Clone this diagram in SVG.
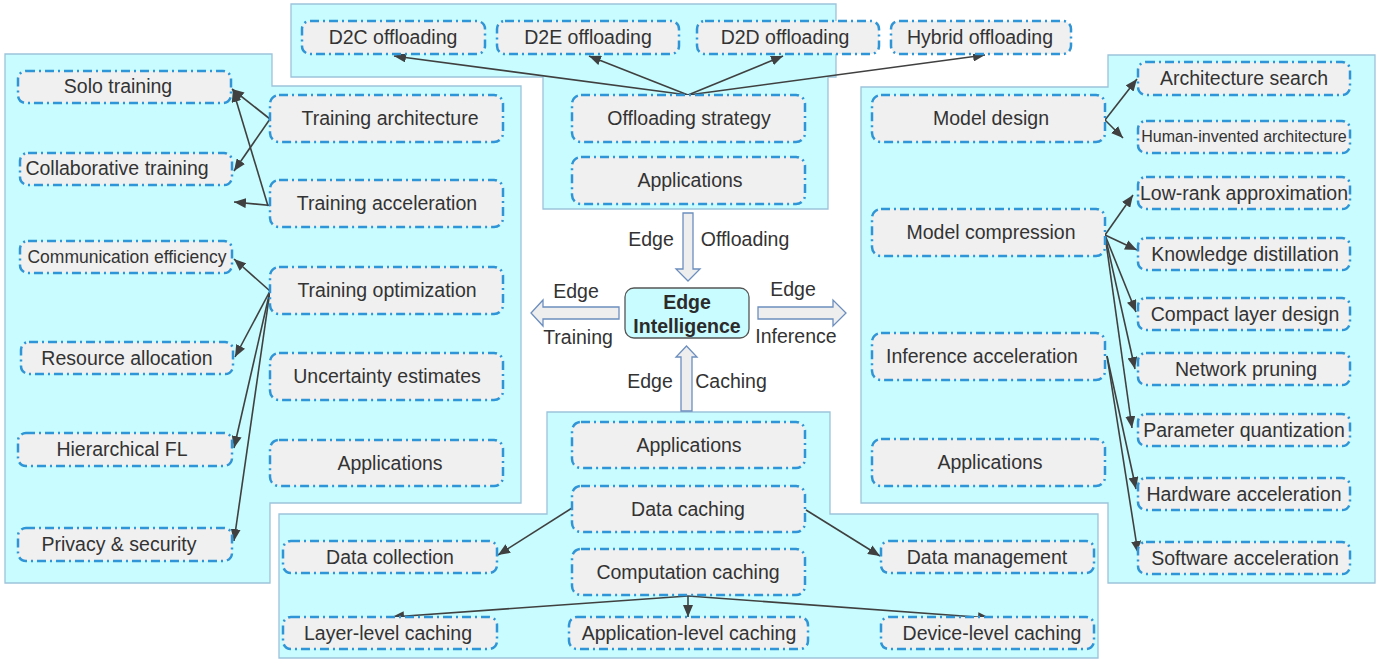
<svg xmlns="http://www.w3.org/2000/svg" width="1390" height="664" viewBox="0 0 1390 664">
<defs>
<style>
.panel{fill:#C8FCFE;stroke:#9CC3DA;stroke-width:1.3}
.nd{fill:#F0F0F0;stroke:#2F95D6;stroke-width:2.5;stroke-dasharray:9 4 2 4}
.t{font-family:"Liberation Sans",Arial,sans-serif;font-size:19.5px;fill:#333333;text-anchor:middle}
.lbl{font-family:"Liberation Sans",Arial,sans-serif;font-size:19.5px;fill:#333333;text-anchor:middle}
.ei{font-family:"Liberation Sans",Arial,sans-serif;font-size:19.5px;font-weight:bold;fill:#2b2b2b;text-anchor:middle}
.blk{fill:#EEEEEE;stroke:#6C8EBF;stroke-width:1.3}
.cn{fill:none;stroke:#404040;stroke-width:1.6;marker-end:url(#ah)}
</style>
<marker id="ah" viewBox="0 0 12 10" refX="12" refY="5" markerWidth="12" markerHeight="10" markerUnits="userSpaceOnUse" orient="auto">
<path d="M0,0 L12,5 L0,10 Z" fill="#404040"/>
</marker>
</defs>

<g id="panels">
<path class="panel" d="M5,54 H272 V86 H521 V503 H270 V583 H5 Z"/>
<path class="panel" d="M291,4 H836 V77 H828 V209 H543 V77 H291 Z"/>
<path class="panel" d="M1108,55 H1375 V583 H1108 V503 H861 V87 H1108 Z"/>
<path class="panel" d="M547,412 H830 V514 H1098 V658 H279 V514 H547 Z"/>
</g>

<g id="block-arrows">
<polygon class="blk" points="683,213 693,213 693,269 700,269 688,281 676,269 683,269"/>
<polygon class="blk" points="681,411 692,411 692,357 697,357 686.5,346 676,357 681,357"/>
<polygon class="blk" points="619,307 619,319 543,319 543,326 531,313 543,300 543,307"/>
<polygon class="blk" points="758,307 833,307 833,300 846,313 833,326 833,319 758,319"/>
</g>

<g id="edge-labels">
<text class="lbl" x="651" y="246">Edge</text>
<text class="lbl" x="745" y="246">Offloading</text>
<text class="lbl" x="576" y="298">Edge</text>
<text class="lbl" x="578" y="344">Training</text>
<text class="lbl" x="793" y="296">Edge</text>
<text class="lbl" x="796" y="343">Inference</text>
<text class="lbl" x="650" y="388">Edge</text>
<text class="lbl" x="731" y="388">Caching</text>
</g>

<g id="edge-intelligence">
<rect x="625" y="288" width="124" height="50" rx="9" fill="#C8FCFE" stroke="#555555" stroke-width="1.3"/>
<text class="ei" x="687" y="309">Edge</text>
<text class="ei" x="687" y="333">Intelligence</text>
</g>

<g id="connectors">
<line class="cn" x1="688" y1="95" x2="394" y2="56"/>
<line class="cn" x1="688" y1="95" x2="589" y2="56"/>
<line class="cn" x1="688" y1="95" x2="783" y2="56"/>
<line class="cn" x1="688" y1="95" x2="985" y2="55"/>
<line class="cn" x1="270" y1="119" x2="232" y2="89"/>
<line class="cn" x1="270" y1="119" x2="234" y2="171"/>
<line class="cn" x1="268" y1="206" x2="233" y2="90"/>
<line class="cn" x1="276" y1="206" x2="234" y2="202"/>
<line class="cn" x1="270" y1="291" x2="234" y2="259"/>
<line class="cn" x1="270" y1="291" x2="235" y2="357"/>
<line class="cn" x1="270" y1="291" x2="234" y2="448"/>
<line class="cn" x1="270" y1="291" x2="234" y2="541"/>
<line class="cn" x1="1105" y1="120" x2="1137" y2="79"/>
<line class="cn" x1="1105" y1="120" x2="1123" y2="138"/>
<line class="cn" x1="1105" y1="235" x2="1133" y2="195"/>
<line class="cn" x1="1105" y1="235" x2="1137" y2="250"/>
<line class="cn" x1="1105" y1="235" x2="1136" y2="312"/>
<line class="cn" x1="1105" y1="235" x2="1135" y2="369"/>
<line class="cn" x1="1105" y1="235" x2="1132" y2="428"/>
<line class="cn" x1="1107" y1="356" x2="1136" y2="489"/>
<line class="cn" x1="1107" y1="356" x2="1138" y2="553"/>
<line class="cn" x1="572" y1="508" x2="498" y2="555"/>
<line class="cn" x1="806" y1="510" x2="880" y2="556"/>
<line class="cn" x1="688" y1="596" x2="392" y2="617"/>
<line class="cn" x1="688" y1="596" x2="688" y2="617"/>
<line class="cn" x1="688" y1="596" x2="990" y2="618"/>
</g>

<g id="n-d2c"><rect class="nd" x="302" y="21" width="183" height="33" rx="8"/><text class="t" x="393" y="44">D2C offloading</text></g>
<g id="n-d2e"><rect class="nd" x="497" y="21" width="182" height="33" rx="8"/><text class="t" x="588" y="44">D2E offloading</text></g>
<g id="n-d2d"><rect class="nd" x="697" y="21" width="182" height="33" rx="8"/><text class="t" x="785" y="44">D2D offloading</text></g>
<g id="n-hybrid"><rect class="nd" x="891" y="21" width="180" height="33" rx="8"/><text class="t" x="980" y="44">Hybrid offloading</text></g>
<g id="n-offstrat"><rect class="nd" x="572" y="95" width="233" height="47" rx="9"/><text class="t" x="689" y="125">Offloading strategy</text></g>
<g id="n-offapp"><rect class="nd" x="572" y="157" width="233" height="47" rx="9"/><text class="t" x="690" y="187">Applications</text></g>

<g id="n-solo"><rect class="nd" x="18" y="71" width="213" height="32" rx="8"/><text class="t" x="118" y="93">Solo training</text></g>
<g id="n-collab"><rect class="nd" x="20" y="153" width="212" height="32" rx="8"/><text class="t" x="117" y="175">Collaborative training</text></g>
<g id="n-comm"><rect class="nd" x="20" y="241" width="212" height="32" rx="8"/><text class="t" x="127" y="263" style="font-size:17.5px">Communication efficiency</text></g>
<g id="n-resource"><rect class="nd" x="21" y="342" width="212" height="32" rx="8"/><text class="t" x="127" y="365">Resource allocation</text></g>
<g id="n-hfl"><rect class="nd" x="18" y="433" width="214" height="33" rx="8"/><text class="t" x="122" y="456">Hierarchical FL</text></g>
<g id="n-privacy"><rect class="nd" x="18" y="528" width="214" height="33" rx="8"/><text class="t" x="119" y="551">Privacy &amp; security</text></g>
<g id="n-tarch"><rect class="nd" x="270" y="95" width="233" height="47" rx="9"/><text class="t" x="390" y="125">Training architecture</text></g>
<g id="n-tacc"><rect class="nd" x="270" y="180" width="233" height="47" rx="9"/><text class="t" x="387" y="210">Training acceleration</text></g>
<g id="n-topt"><rect class="nd" x="270" y="267" width="233" height="47" rx="9"/><text class="t" x="387" y="297">Training optimization</text></g>
<g id="n-unc"><rect class="nd" x="270" y="353" width="233" height="47" rx="9"/><text class="t" x="387" y="383">Uncertainty estimates</text></g>
<g id="n-tapp"><rect class="nd" x="270" y="440" width="233" height="46" rx="9"/><text class="t" x="390" y="470">Applications</text></g>

<g id="n-mdesign"><rect class="nd" x="872" y="95" width="233" height="47" rx="9"/><text class="t" x="991" y="125">Model design</text></g>
<g id="n-mcomp"><rect class="nd" x="872" y="209" width="233" height="47" rx="9"/><text class="t" x="991" y="239">Model compression</text></g>
<g id="n-iacc"><rect class="nd" x="872" y="333" width="233" height="47" rx="9"/><text class="t" x="982" y="363">Inference acceleration</text></g>
<g id="n-iapp"><rect class="nd" x="872" y="439" width="233" height="47" rx="9"/><text class="t" x="990" y="469">Applications</text></g>
<g id="n-archsearch"><rect class="nd" x="1138" y="62" width="212" height="33" rx="8"/><text class="t" x="1244" y="85">Architecture search</text></g>
<g id="n-human"><rect class="nd" x="1138" y="121" width="212" height="32" rx="8"/><text class="t" x="1244" y="142" style="font-size:16px">Human-invented architecture</text></g>
<g id="n-lowrank"><rect class="nd" x="1138" y="177" width="212" height="32" rx="8"/><text class="t" x="1244" y="200">Low-rank approximation</text></g>
<g id="n-kd"><rect class="nd" x="1138" y="238" width="212" height="32" rx="8"/><text class="t" x="1245" y="261">Knowledge distillation</text></g>
<g id="n-compact"><rect class="nd" x="1138" y="298" width="212" height="32" rx="8"/><text class="t" x="1245" y="321">Compact layer design</text></g>
<g id="n-prune"><rect class="nd" x="1138" y="353" width="212" height="32" rx="8"/><text class="t" x="1246" y="376">Network pruning</text></g>
<g id="n-quant"><rect class="nd" x="1138" y="414" width="212" height="32" rx="8"/><text class="t" x="1244" y="437">Parameter quantization</text></g>
<g id="n-hw"><rect class="nd" x="1138" y="478" width="212" height="32" rx="8"/><text class="t" x="1244" y="501">Hardware acceleration</text></g>
<g id="n-sw"><rect class="nd" x="1138" y="542" width="212" height="32" rx="8"/><text class="t" x="1245" y="565">Software acceleration</text></g>

<g id="n-capp"><rect class="nd" x="572" y="422" width="233" height="46" rx="9"/><text class="t" x="689" y="452">Applications</text></g>
<g id="n-datacache"><rect class="nd" x="572" y="486" width="233" height="46" rx="9"/><text class="t" x="688" y="516">Data caching</text></g>
<g id="n-compcache"><rect class="nd" x="572" y="549" width="233" height="46" rx="9"/><text class="t" x="688" y="579">Computation caching</text></g>
<g id="n-datacoll"><rect class="nd" x="283" y="541" width="214" height="32" rx="8"/><text class="t" x="390" y="564">Data collection</text></g>
<g id="n-datamgmt"><rect class="nd" x="881" y="541" width="213" height="32" rx="8"/><text class="t" x="987" y="564">Data management</text></g>
<g id="n-layer"><rect class="nd" x="283" y="617" width="214" height="32" rx="8"/><text class="t" x="388" y="640">Layer-level caching</text></g>
<g id="n-applevel"><rect class="nd" x="569" y="617" width="239" height="32" rx="8"/><text class="t" x="689" y="640">Application-level caching</text></g>
<g id="n-device"><rect class="nd" x="881" y="617" width="213" height="32" rx="8"/><text class="t" x="992" y="640">Device-level caching</text></g>
</svg>
